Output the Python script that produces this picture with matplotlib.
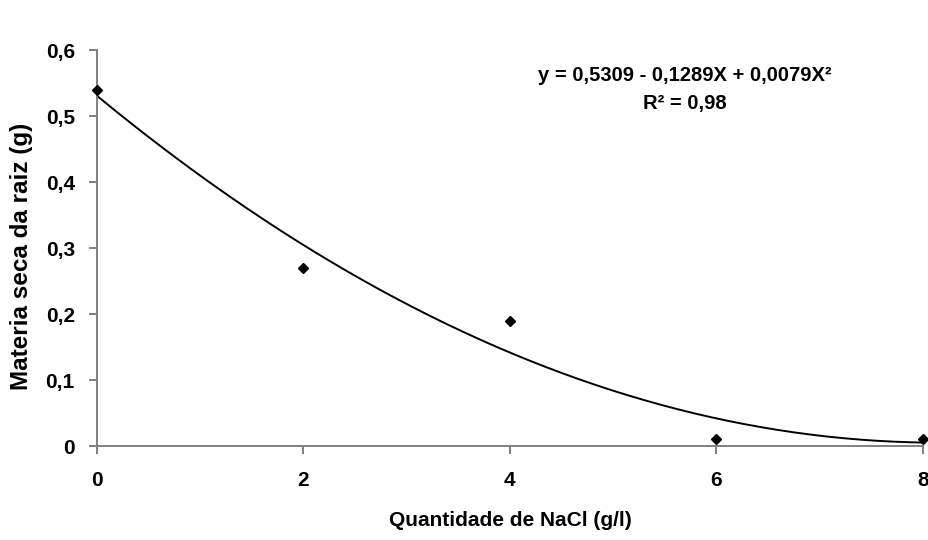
import numpy as np
import matplotlib
matplotlib.use("Agg")
import matplotlib.pyplot as plt
from matplotlib.ticker import FuncFormatter

# observed values
nacl = [0, 2, 4, 6, 8]
materia_seca = [0.54, 0.27, 0.19, 0.01, 0.01]

# fitted quadratic (as printed on the chart)
coef = [0.5309, -0.1289, 0.0079]
r2 = 0.98

plt.rcParams['font.family'] = ['Liberation Sans', 'DejaVu Sans']
plt.rcParams['font.weight'] = 'bold'


def virgula(v, nd):
    return ('%.*f' % (nd, v)).replace('.', ',')


fig = plt.figure(figsize=(9.29, 5.4), dpi=100)
ax = fig.add_axes([0.1044, 0.174, 0.889, 0.733])

xs = np.linspace(0, 8, 200)
ys = coef[0] + coef[1] * xs + coef[2] * xs ** 2
ax.plot(xs, ys, color='black', lw=1.4)
ax.plot(nacl, materia_seca, 'D', color='black', ms=5.5, clip_on=False, zorder=5)

ax.set_xlim(0, 8)
ax.set_ylim(0, 0.6)
ax.set_xticks([0, 2, 4, 6, 8])
ax.set_yticks(np.arange(0, 0.61, 0.1))
ax.yaxis.set_major_formatter(FuncFormatter(lambda v, p: ('%g' % round(v, 1)).replace('.', ',')))

for s in ['top', 'right']:
    ax.spines[s].set_visible(False)
for s in ['left', 'bottom']:
    ax.spines[s].set_color('#808080')
    ax.spines[s].set_linewidth(1.4)
ax.tick_params(colors='#808080', width=1.4, length=6, labelcolor='black', labelsize=15)
ax.tick_params(axis='x', pad=12)
ax.tick_params(axis='y', pad=10)

ax.set_xlabel('Quantidade de NaCl (g/l)', fontsize=15, fontweight='bold')
ax.xaxis.set_label_coords(0.5, -0.165)
ax.set_ylabel('Materia seca da raiz (g)', fontsize=17.5, fontweight='bold')
ax.yaxis.set_label_coords(-0.0775, 0.48)

eq = 'y = %s - %sX + %sX\u00b2' % (virgula(coef[0], 4), virgula(-coef[1], 4), virgula(coef[2], 4))
ax.text(0.712, 0.937, eq, transform=ax.transAxes, ha='center', va='center',
        fontsize=14.5, fontweight='bold')
ax.text(0.712, 0.866, 'R\u00b2 = %s' % virgula(r2, 2),
        transform=ax.transAxes, ha='center', va='center', fontsize=14.5, fontweight='bold')

fig.savefig('out.png', dpi=100)
